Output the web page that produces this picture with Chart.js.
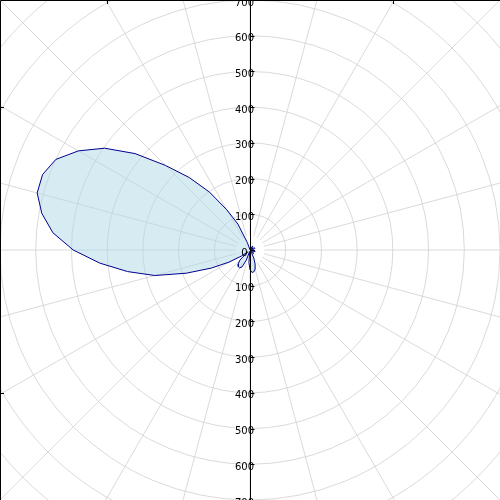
<!DOCTYPE html>
<html lang="en">
<head>
    <meta charset="UTF-8">
    <title>Polar pattern</title>
    <script src="https://cdn.jsdelivr.net/npm/chart.js"></script>
    <style>
        body { margin: 0; background: #fff; }
        .chart-box { width: 500px; height: 500px; }
    </style>
</head>
<body>
    <div class="chart-box">
        <canvas id="polar"></canvas>
    </div>

    <script>
        // pattern: angle (deg) -> radius
        const angles = [0, 5, 10, 15, 20, 25, 30, 35, 40, 45, 50, 55, 60, 65, 70, 75, 80, 85,
            90, 95, 100, 105, 110, 115, 120, 125, 130, 135, 140, 145, 150, 155, 160, 165, 170, 175,
            180, 185, 190, 195, 200, 205, 210, 215, 220, 225, 230, 235, 240, 245, 250, 255, 260, 265,
            270, 275, 280, 285, 290, 295, 300, 305, 310, 315, 320, 325, 330, 335, 340, 345, 350, 355];
        const radii = [5, 3, 8, 13, 15, 14, 10, 5, 2, 6, 11, 13, 11, 6, 2, 4, 6, 5,
            3, 2, 4, 3, 22, 80, 130, 198, 265, 335, 420, 497, 555, 600, 618, 617, 592, 554,
            495, 422, 348, 276, 190, 120, 68, 30, 8, 40, 52, 57, 58, 52, 30, 5, 4, 35,
            55, 63, 62, 55, 42, 25, 8, 5, 10, 14, 12, 6, 2, 6, 12, 15, 14, 10];

        const ringValues = [100, 200, 300, 400, 500, 600, 700, 800, 900, 1000];
        const spokeStep = 15;
        const frameTicks = [-400, 400];
        const axisMin = -700;
        const axisMax = 700;

        const points = angles.map((a, i) => {
            const t = a * Math.PI / 180;
            return { x: radii[i] * Math.cos(t), y: radii[i] * Math.sin(t) };
        });
        points.push(points[0]);

        const polarGrid = {
            id: 'polarGrid',
            beforeDatasetsDraw(chart) {
                const { ctx, chartArea, scales: { x, y } } = chart;
                const cx = x.getPixelForValue(0);
                const cy = y.getPixelForValue(0);
                const unit = x.getPixelForValue(100) - cx;
                ctx.save();
                ctx.beginPath();
                ctx.rect(chartArea.left, chartArea.top, chartArea.right - chartArea.left, chartArea.bottom - chartArea.top);
                ctx.clip();
                ctx.strokeStyle = '#d0d0d0';
                ctx.lineWidth = 0.8;
                ringValues.forEach(r => {
                    ctx.beginPath();
                    ctx.arc(cx, cy, r / 100 * unit, 0, Math.PI * 2);
                    ctx.stroke();
                });
                for (let a = 0; a < 360; a += spokeStep) {
                    const t = a * Math.PI / 180;
                    const r0 = 0.4 * unit, r1 = 10 * unit;
                    ctx.beginPath();
                    ctx.moveTo(cx + r0 * Math.cos(t), cy - r0 * Math.sin(t));
                    ctx.lineTo(cx + r1 * Math.cos(t), cy - r1 * Math.sin(t));
                    ctx.stroke();
                }
                ctx.restore();
            },
            afterDatasetsDraw(chart) {
                const { ctx, chartArea, scales: { x, y } } = chart;
                const cx = Math.round(x.getPixelForValue(0)) + 0.5;
                ctx.save();
                ctx.strokeStyle = '#000';
                ctx.lineWidth = 1;

                // frame (left + top) with its ticks
                ctx.beginPath();
                ctx.moveTo(chartArea.left + 0.5, chartArea.bottom);
                ctx.lineTo(chartArea.left + 0.5, chartArea.top + 0.5);
                ctx.lineTo(chartArea.right, chartArea.top + 0.5);
                frameTicks.forEach(v => {
                    const px = Math.round(x.getPixelForValue(v)) + 0.5;
                    ctx.moveTo(px, chartArea.top);
                    ctx.lineTo(px, chartArea.top + 4);
                    const py = Math.round(y.getPixelForValue(v)) + 0.5;
                    ctx.moveTo(chartArea.left, py);
                    ctx.lineTo(chartArea.left + 4, py);
                });
                ctx.stroke();

                // center vertical axis
                ctx.beginPath();
                ctx.moveTo(cx, chartArea.top);
                ctx.lineTo(cx, chartArea.bottom);
                y.ticks.forEach(t => {
                    const py = Math.round(y.getPixelForValue(t.value)) + 0.5;
                    ctx.moveTo(cx, py);
                    ctx.lineTo(cx + 4, py);
                });
                ctx.stroke();

                ctx.fillStyle = '#000';
                ctx.font = '10px "DejaVu Sans"';
                ctx.textAlign = 'center';
                ctx.textBaseline = 'middle';
                y.ticks.forEach(t => {
                    if (t.value % 100 !== 0) return;
                    ctx.fillText(String(Math.abs(t.value)), cx - 6, y.getPixelForValue(t.value) + 3);
                });
                ctx.restore();
            }
        };

        new Chart(document.getElementById('polar'), {
            type: 'scatter',
            data: {
                datasets: [{
                    data: points,
                    showLine: true,
                    borderColor: '#00008b',
                    borderWidth: 1,
                    backgroundColor: 'rgba(173, 216, 230, 0.5)',
                    fill: 'shape',
                    pointRadius: 0,
                    tension: 0
                }]
            },
            options: {
                responsive: true,
                maintainAspectRatio: false,
                animation: false,
                layout: { padding: 0 },
                plugins: { legend: { display: false }, tooltip: { enabled: false } },
                scales: {
                    x: { type: 'linear', min: axisMin, max: axisMax, display: false },
                    y: { type: 'linear', min: axisMin, max: axisMax, display: false, ticks: { stepSize: 50 } }
                }
            },
            plugins: [polarGrid]
        });
    </script>
</body>
</html>
